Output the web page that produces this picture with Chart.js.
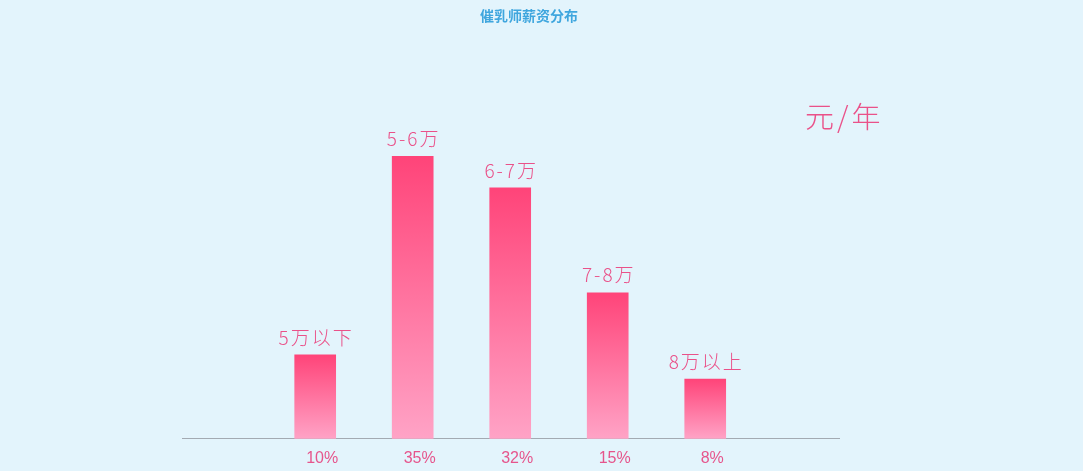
<!DOCTYPE html>
<html>
<head>
<meta charset="utf-8">
<script src="https://cdn.jsdelivr.net/npm/chart.js@4/dist/chart.umd.min.js"></script>
<style>
  html, body { margin: 0; padding: 0; background: #e3f4fc; }
  #wrap { width: 1083px; height: 471px; position: relative; }
</style>
</head>
<body>
<div id="wrap"><canvas id="salaryChart"></canvas></div>
<script>
const salaryRanges = ['5万以下', '5-6万', '6-7万', '7-8万', '8万以上'];
const barValues = [10.4, 35, 31.1, 18.1, 7.4];
const percentLabels = ['10%', '35%', '32%', '15%', '8%'];
const chartTitle = '催乳师薪资分布';
const unitText = '元/年';

document.addEventListener('DOMContentLoaded', () => {
  const ctx = document.getElementById('salaryChart').getContext('2d');

  // Titles and labels drawn on top of the bars
  const labelPlugin = {
    id: 'labelPlugin',
    afterDatasetsDraw(chart) {
      const c = chart.ctx;
      c.save();
      c.textAlign = 'center';
      c.textBaseline = 'middle';
      c.fillStyle = '#3fa6de';
      c.font = 'bold 14px "Noto Sans CJK SC"';
      c.fillText(chartTitle, 529, 16);

      c.textAlign = 'left';
      c.fillStyle = '#ea5189';
      c.font = '300 29px "Noto Sans CJK SC"';
      c.letterSpacing = '3px';
      c.fillText(unitText, 805, 117);

      c.textAlign = 'center';
      c.textBaseline = 'bottom';
      c.font = '300 19px "Noto Sans CJK SC"';
      c.letterSpacing = '2px';
      chart.getDatasetMeta(0).data.forEach((bar, i) => {
        c.fillText(salaryRanges[i], bar.x + 1, bar.y - 8);
      });
      c.restore();
    }
  };

  new Chart(ctx, {
    type: 'bar',
    data: {
      datasets: [{
        data: barValues.map((v, i) => ({ x: i + 1, y: v })),
        barThickness: 41,
        borderWidth: 0,
        backgroundColor: (context) => {
          const chart = context.chart;
          const yScale = chart.scales.y;
          if (!yScale || context.raw === undefined) return '#ff4479';
          const top = yScale.getPixelForValue(context.raw.y);
          const bottom = yScale.getPixelForValue(0);
          if (!isFinite(top) || !isFinite(bottom) || top === bottom) return '#ff4479';
          const g = chart.ctx.createLinearGradient(0, top, 0, bottom);
          g.addColorStop(0, '#ff4479');
          g.addColorStop(1, '#ffa3c6');
          return g;
        }
      }]
    },
    options: {
      responsive: true,
      maintainAspectRatio: false,
      animation: false,
      layout: {
        padding: { left: 182, right: 244, top: 116, bottom: -7 }
      },
      scales: {
        x: {
          type: 'linear',
          offset: false,
          min: -0.366,
          max: 6.372,
          grid: { display: false, drawTicks: false },
          border: { display: true, color: '#a3aab2', width: 1 },
          afterBuildTicks: (scale) => {
            scale.ticks = percentLabels.map((_, i) => ({ value: i + 1 }));
          },
          ticks: {
            padding: 10,
            labelOffset: 7,
            color: '#e6558c',
            font: { size: 16, family: '"Liberation Sans Narrow", "Liberation Sans"' },
            callback: (value) => percentLabels[value - 1]
          }
        },
        y: {
          display: false,
          min: 0,
          max: 40
        }
      },
      plugins: {
        legend: { display: false },
        tooltip: { enabled: false }
      }
    },
    plugins: [labelPlugin]
  });
});
</script>
</body>
</html>
